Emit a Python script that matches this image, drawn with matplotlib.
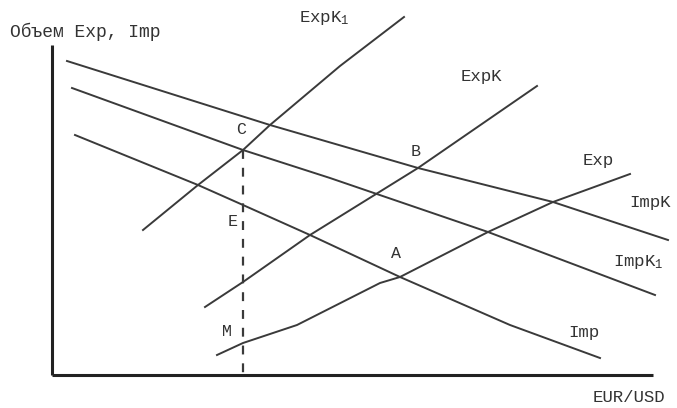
import matplotlib
matplotlib.use("Agg")
import matplotlib.pyplot as plt

# curves (image pixel coords, y grows downward)
impk_x = [67, 270, 418, 553, 668]
impk_y = [61, 125, 168, 202, 240]

impk1_x = [72, 243, 330, 488, 655]
impk1_y = [88, 150, 178, 232, 295]

imp_x = [75, 198, 243, 310, 400, 510, 600]
imp_y = [135, 185, 205, 235, 277, 325, 358]

expk1_x = [143, 198, 243, 270, 340, 404]
expk1_y = [230, 185, 150, 125, 66, 17]

expk_x = [205, 243, 310, 418, 537]
expk_y = [307, 282, 235, 168, 86]

exp_x = [217, 243, 297, 380, 400, 488, 553, 630]
exp_y = [355, 343, 325, 283, 277, 232, 202, 174]

# point labels
pt_names = ["C", "B", "E", "A", "M"]
pt_x = [236, 411, 228, 391, 222]
pt_y = [130, 152, 221, 254, 331]

curve_names = ["ExpK$_1$", "ExpK", "Exp", "ImpK", "ImpK$_1$", "Imp"]
curve_lx = [299, 461, 583, 629, 613, 568]
curve_ly = [18, 76, 160, 202, 262, 332]

line_col = "#3a3a3a"
txt_col = "#333333"
plt.rcParams["font.family"] = ["Liberation Mono", "DejaVu Sans Mono"]
plt.rcParams["mathtext.fontset"] = "custom"
plt.rcParams["mathtext.rm"] = "Liberation Mono"
plt.rcParams["mathtext.it"] = "Liberation Mono"

fig = plt.figure(figsize=(6.77, 4.08), dpi=100)
ax = fig.add_axes([0, 0, 1, 1])
ax.set_xlim(0, 677)
ax.set_ylim(408, 0)
ax.axis("off")

# axes of the diagram
ax.plot([52, 52], [45, 375], color="#222222", lw=2.2, solid_capstyle="butt")
ax.plot([52, 653], [375, 375], color="#222222", lw=2.2, solid_capstyle="butt")

for xs, ys in [(impk_x, impk_y), (impk1_x, impk1_y), (imp_x, imp_y),
               (expk1_x, expk1_y), (expk_x, expk_y), (exp_x, exp_y)]:
    ax.plot(xs, ys, color=line_col, lw=1.4)

# dashed drop line from C
ax.plot([243, 243], [150, 375], color=line_col, lw=1.6, ls=(0, (4, 4)))

for n, x, y in zip(pt_names, pt_x, pt_y):
    ax.text(x, y, n, fontsize=12, color=txt_col, va="center", ha="left")

for n, x, y in zip(curve_names, curve_lx, curve_ly):
    ax.text(x, y, n, fontsize=12.5, color=txt_col, va="center", ha="left")

ax.text(10, 32, "Объем Exp, Imp", fontsize=13, color=txt_col, va="center", ha="left")
ax.text(593, 397, "EUR/USD", fontsize=12.5, color=txt_col, va="center", ha="left")

fig.savefig("out.png", dpi=100)
